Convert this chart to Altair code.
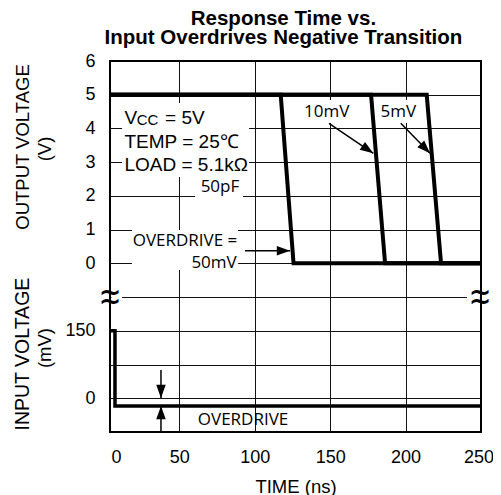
import math
import altair as alt
import pandas as pd

# ---------------- data ----------------
t_start, t_end = 4, 250            # visible time range (ns) in picture units
y_low, y_high = -5, 6              # stacked position scale (upper: V, lower: mV mapped)

out_series = ["50mV", "10mV", "5mV"]
out_fall_start = [117.2, 177.1, 214.0]   # ns, output leaves 5 V
out_fall_end = [125.7, 186.4, 223.5]     # ns, output reaches 0 V
out_high = 5
out_low = 0

in_t = [4, 7.3, 7.3, 250]                # ns
in_mv = [150, 150, -17, -17]             # mV

x_tick_values = [8, 50, 100, 150, 200, 250]
x_tick_labels = ["0", "50", "100", "150", "200", "250"]
y_tick_pos = [-5, -4, -3, -2, -1, 0, 1, 2, 3, 4, 5, 6]
y_tick_labels = ["", "0", "", "150", "", "0", "1", "2", "3", "4", "5", "6"]

title_lines = ["Response Time vs.", "Input Overdrives Negative Transition"]

W, H = 371, 371


def mv_to_pos(mv):
    # lower panel: 0 mV at -4, 150 mV at -2
    return -4 + mv / 75.0


def px_angle(x0, y0, x1, y1):
    dx = (x1 - x0) * W / (t_end - t_start)
    dy = -(y1 - y0) * H / (y_high - y_low)
    return (math.degrees(math.atan2(dy, dx)) + 360) % 360


# ---------------- tables ----------------
out_rows = []
for s, a, b in zip(out_series, out_fall_start, out_fall_end):
    for i, (t, v) in enumerate([(t_start, out_high), (a, out_high), (b, out_low), (t_end, out_low)]):
        out_rows.append({"series": s, "x": t, "y": v, "o": i})
out_df = pd.DataFrame(out_rows)

in_df = pd.DataFrame({"x": in_t, "y": [mv_to_pos(m) for m in in_mv], "o": range(len(in_t))})

border_df = pd.DataFrame([{"x": t_start, "x2": t_end, "y": y_low, "y2": y_high}])

boxes_df = pd.DataFrame([
    {"x": 12.0, "x2": 96.2, "y": 4.755, "y2": 2.56},     # conditions block
    {"x": 60.4, "x2": 92.2, "y": 2.62, "y2": 1.88},      # 50pF
    {"x": 18.6, "x2": 88.9, "y": 0.99, "y2": -0.2},      # OVERDRIVE = 50mV
    {"x": 131.3, "x2": 164.5, "y": 4.84, "y2": 4.16},    # 10mV
    {"x": 181.7, "x2": 208.2, "y": 4.84, "y2": 4.16},    # 5mV
    {"x": 5.0, "x2": 12.0, "y": -0.9, "y2": -1.1},       # break left (grid only)
    {"x": 240.7, "x2": 249.2, "y": -0.9, "y2": -1.1},    # break right (grid only)
])

arrows = [
    (149.2, 4.153, 178.6, 3.263),
    (196.8, 4.153, 216.2, 3.263),
    (93.5, 0.376, 123.4, 0.376),
    (37.8, -3.16, 37.8, -3.99),
    (37.8, -5.0, 37.8, -4.228),
]
arrow_df = pd.DataFrame([
    {"x": a, "y": b, "x2": c, "y2": d, "ang": px_angle(a, b, c, d)} for a, b, c, d in arrows
])

arial_df = pd.DataFrame([
    {"text": "V", "x": 13.6, "y": 4.31},
    {"text": "= 5V", "x": 40.5, "y": 4.31},
    {"text": "TEMP = 25\u2103", "x": 13.6, "y": 3.607},
    {"text": "LOAD = 5.1k\u03a9", "x": 13.6, "y": 2.917},
])
sub_df = pd.DataFrame([{"text": "CC", "x": 21.7, "y": 4.31}])

calibri_df = pd.DataFrame([
    {"text": "50pF", "x": 76.9, "y": 2.273},
    {"text": "OVERDRIVE =", "x": 53.7, "y": 0.672},
    {"text": "50mV", "x": 73.0, "y": 0.02},
    {"text": "10mV", "x": 147.7, "y": 4.497},
    {"text": "5mV", "x": 195.2, "y": 4.497},
    {"text": "OVERDRIVE", "x": 92.2, "y": -4.643},
])

title_df = pd.DataFrame([{"text": title_lines, "x": 119.0, "y": 7.245}])

ytitle_df = pd.DataFrame([
    {"text": "OUTPUT VOLTAGE", "x": -53.5, "y": 3.45, "fs": 18.5},
    {"text": "(V)", "x": -39.1, "y": 3.39, "fs": 18.5},
    {"text": "INPUT VOLTAGE", "x": -53.5, "y": -2.69, "fs": 19.5},
    {"text": "(mV)", "x": -39.1, "y": -2.51, "fs": 18.5},
])

# axis-break marks (two stacked tildes in one text item)
break_df = pd.DataFrame([
    {"text": ["~", "~"], "x": t_start, "y": -1.0},
    {"text": ["~", "~"], "x": t_end - 0.7, "y": -1.0},
])


def label_expr(values, labels):
    expr = "''"
    for v, lab in reversed(list(zip(values, labels))):
        expr = f"datum.value == {v} ? '{lab}' : {expr}"
    return expr


xscale = alt.Scale(domain=[t_start, t_end], nice=False, zero=False)
yscale = alt.Scale(domain=[y_low, y_high], nice=False, zero=False)

x_axis = alt.Axis(
    values=x_tick_values, labelExpr=label_expr(x_tick_values, x_tick_labels),
    grid=True, gridColor="#111", gridWidth=1,
    gridOpacity={"condition": {"test": "datum.value == 8", "value": 0}, "value": 1},
    labelOffset={"condition": {"test": "datum.value == 250", "value": -2.5}, "value": 0},
    domain=False, ticks=False, tickSize=0, labelPadding=16, labelFlush=False, labelOverlap=False,
    title="TIME (ns)", titleFont="Liberation Sans", titleFontSize=18.5, titleFontWeight="normal",
    titleColor="black", titleY=54, titleBaseline="middle",
)
y_axis = alt.Axis(
    values=y_tick_pos, labelExpr=label_expr(y_tick_pos, y_tick_labels),
    grid=True, gridColor="#111", gridWidth=1,
    domain=False, ticks=False, tickSize=0, labelPadding=15, labelOverlap=False, title=None,
)


def X(f="x"):
    return alt.X(f"{f}:Q", scale=xscale, axis=x_axis, title="TIME (ns)")


def Y(f="y"):
    return alt.Y(f"{f}:Q", scale=yscale, axis=y_axis, title=None)


border = alt.Chart(border_df).mark_rect(fillOpacity=0, stroke="black", strokeWidth=2).encode(
    x=X(), x2="x2:Q", y=Y(), y2="y2:Q")

boxes = alt.Chart(boxes_df).mark_rect(fill="white").encode(x=X(), x2="x2:Q", y=Y(), y2="y2:Q")

out_lines = alt.Chart(out_df).mark_line(color="black", strokeWidth=4, strokeJoin="miter").encode(
    x=X(), y=Y(), detail="series:N", order="o:Q")

in_line = alt.Chart(in_df).mark_line(color="black", strokeWidth=3.5, strokeJoin="miter").encode(
    x=X(), y=Y(), order="o:Q")

arrow_shafts = alt.Chart(arrow_df).mark_rule(color="black", strokeWidth=1.5).encode(
    x=X(), y=Y(), x2="x2:Q", y2="y2:Q")
arrow_heads = alt.Chart(arrow_df).mark_point(
    shape="M0,0L-1,-0.36L-1,0.36Z", filled=True, color="black", opacity=1, size=700, strokeWidth=0
).encode(x=X("x2"), y=Y("y2"), angle=alt.Angle("ang:Q", scale=None))

arial_text = alt.Chart(arial_df).mark_text(
    font="Liberation Sans", fontSize=19, align="left", baseline="middle", color="black"
).encode(x=X(), y=Y(), text="text:N")
sub_text = alt.Chart(sub_df).mark_text(
    font="Liberation Sans", fontSize=15, align="left", baseline="middle", dy=2.5, color="black"
).encode(x=X(), y=Y(), text="text:N")

calibri_text = alt.Chart(calibri_df).mark_text(
    font="Open Sans", fontSize=17, align="center", baseline="middle", color="black"
).encode(x=X(), y=Y(), text="text:N")

title_text = alt.Chart(title_df).mark_text(
    font="Liberation Sans", fontSize=20.5, fontWeight="bold", align="center", baseline="middle",
    lineHeight=19, color="black"
).encode(x=X(), y=Y(), text="text")

ytitle_text = alt.Chart(ytitle_df).mark_text(
    font="Liberation Sans", angle=270, align="center", baseline="middle", color="black"
).encode(x=X(), y=Y(), text="text:N", size=alt.Size("fs:Q", scale=None, legend=None))

break_text = alt.Chart(break_df).mark_text(
    font="DejaVu Sans", fontSize=27, fontWeight="bold", align="center", baseline="middle",
    lineHeight=8.5, color="black", dy=-4
).encode(x=X(), y=Y(), text="text")

chart = alt.layer(
    border, boxes, out_lines, in_line, arrow_shafts, arrow_heads,
    arial_text, sub_text, calibri_text, title_text, ytitle_text, break_text,
).properties(
    width=W, height=H,
    autosize=alt.AutoSizeParams(type="none"),
    padding={"left": 102, "top": 53, "right": 12, "bottom": 63},
    background="white",
).configure_view(stroke=None).configure_axis(
    labelFont="Liberation Sans", labelFontSize=18, labelColor="black"
)

chart.save("out.html", embed_options={"renderer": "svg", "actions": False})
